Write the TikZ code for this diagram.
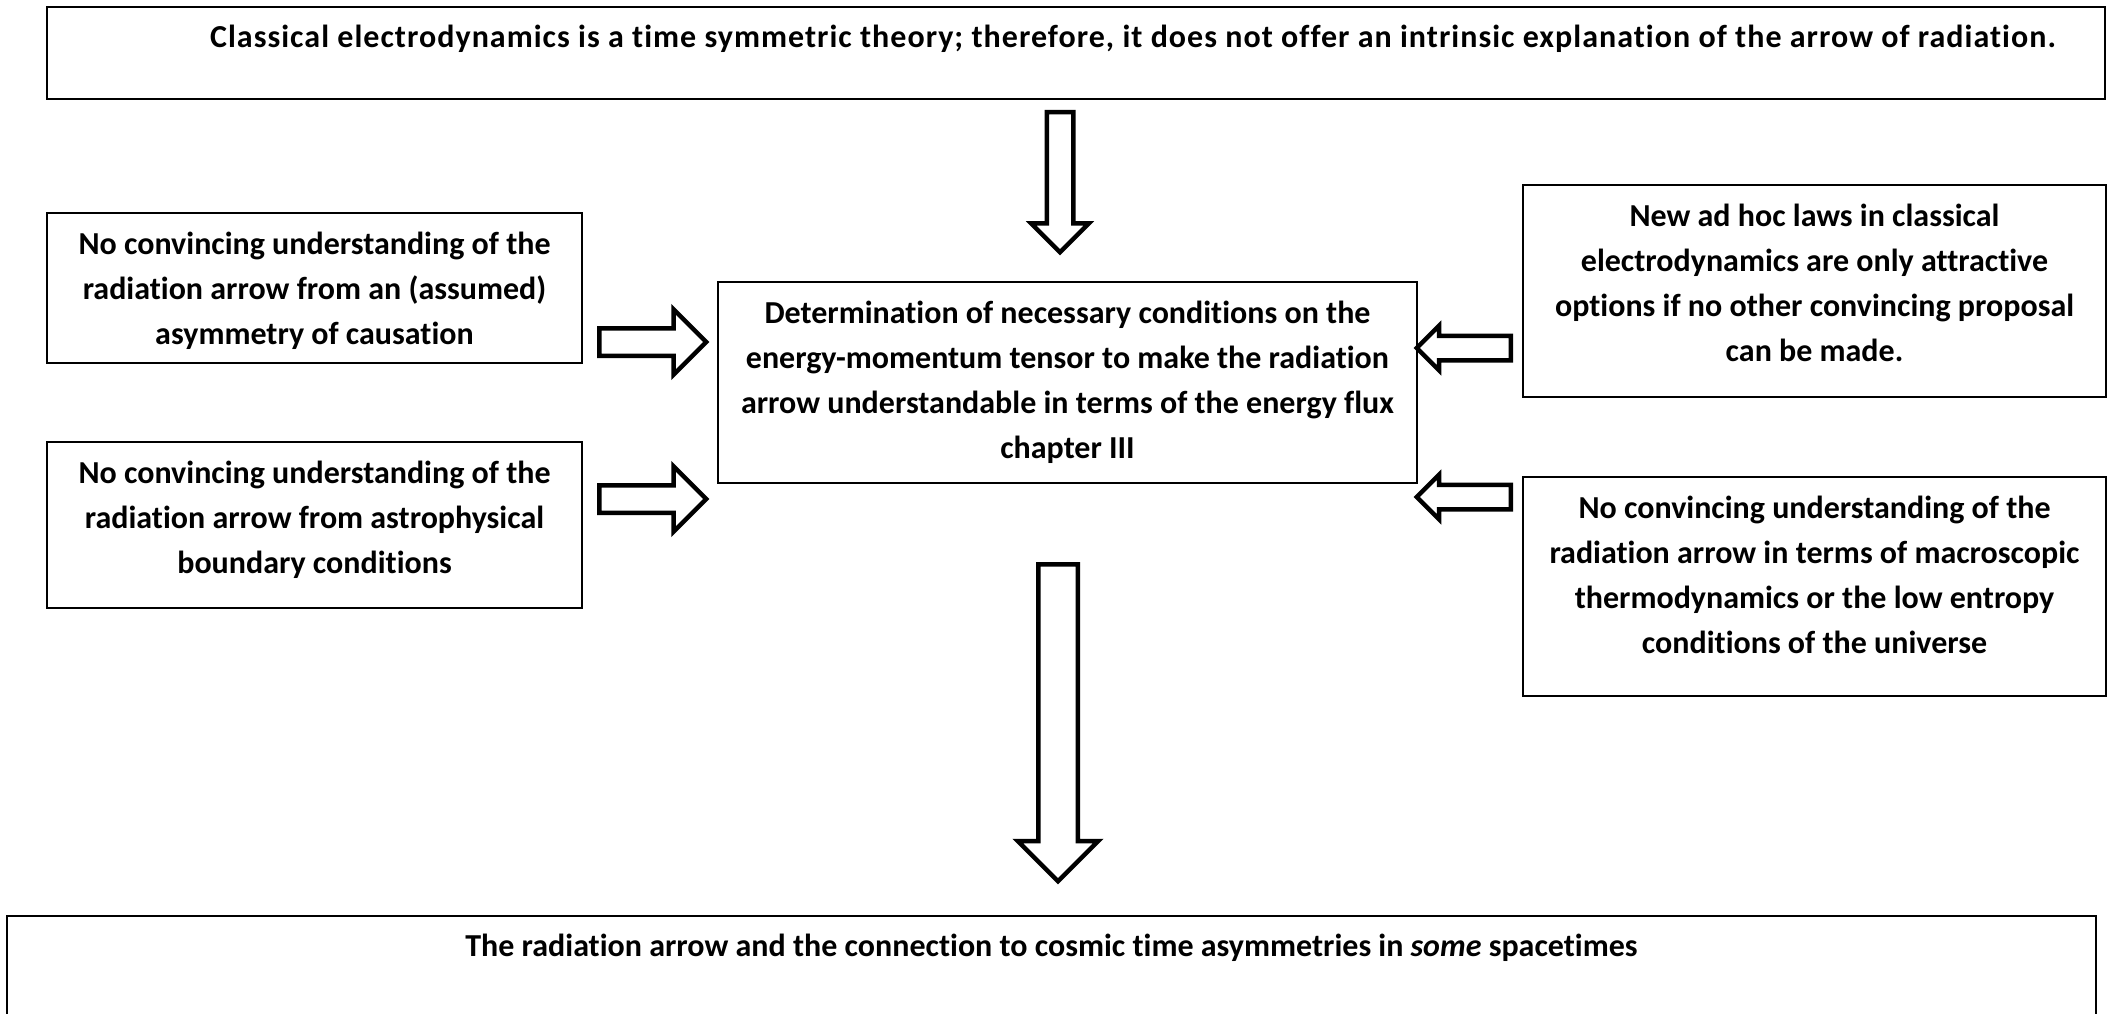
\documentclass[tikz,border=0pt]{standalone}
\usepackage{fontspec}
\setmainfont{Carlito}[Ligatures=NoCommon]
\usetikzlibrary{shapes.arrows}

\begin{document}
\begin{tikzpicture}[x=1pt, y=-1pt,
    frame/.style={draw, line width=1.2pt, inner sep=0, outer sep=0, anchor=north west},
    txt/.style={align=center, anchor=north, inner sep=0, font=\fontsize{32}{45}\selectfont\bfseries, execute at begin node=\strut},
    blockarrow/.style={single arrow, draw, line width=4.5pt, inner xsep=0, single arrow head indent=0pt, anchor=tail}]
  \useasboundingbox (0,0) rectangle (2114,1014);

  \node[frame, line width=2pt, minimum width=2058pt, minimum height=92pt] (cls) at (47,7) {};
  \node[frame, minimum width=535pt, minimum height=150pt] (asym) at (47,213) {};
  \node[frame, minimum width=535pt, minimum height=166pt] (astro) at (47,442) {};
  \node[frame, minimum width=699pt, minimum height=201pt] (det) at (718,282) {};
  \node[frame, minimum width=583pt, minimum height=212pt] (adhoc) at (1523,185) {};
  \node[frame, minimum width=583pt, minimum height=219pt] (thermo) at (1523,477) {};
  \node[frame, line width=2pt, minimum width=2089pt, minimum height=130pt] (cosmic) at (7,916) {};

  \node[txt] (clst) at ([xshift=57pt, yshift=-9pt]cls.north) {\addfontfeature{LetterSpace=3.2}Classical electrodynamics is a time symmetric theory; therefore, it does not offer an intrinsic explanation of the arrow of radiation.};
  \node[txt] (asymt) at ([yshift=-19pt]asym.north) {No convincing understanding of the\\radiation arrow from an (assumed)\\asymmetry of causation};
  \node[txt] (astrot) at ([yshift=-19pt]astro.north) {No convincing understanding of the\\radiation arrow from astrophysical\\boundary conditions};
  \node[txt] (dett) at ([yshift=-19pt]det.north) {Determination of necessary conditions on the\\energy-momentum tensor to make the radiation\\arrow understandable in terms of the energy flux\\chapter III};
  \node[txt] (adhoct) at ([yshift=-19pt]adhoc.north) {New ad hoc laws in classical\\electrodynamics are only attractive\\options if no other convincing proposal\\can be made.};
  \node[txt] (thermot) at ([yshift=-19pt]thermo.north) {No convincing understanding of the\\radiation arrow in terms of macroscopic\\thermodynamics or the low entropy\\conditions of the universe};
  \node[txt] (cosmict) at ([yshift=-9pt]cosmic.north) {The radiation arrow and the connection to cosmic time asymmetries in \textit{some} spacetimes};

  \foreach \x/\y/\r/\len/\s/\e [count=\i] in {1060/110/-90/140/22/15.5, 597/342/0/107/23/19, 597/499/0/107/23/19,
      1513/348/180/94/20/10, 1513/497/180/94/20/10, 1058/562/-90/317/35/20.5}
    \node[blockarrow, rotate=\r, minimum height=\len pt, inner ysep=\s pt/2, single arrow head extend=\e pt] (arr\i) at (\x,\y) {};
\end{tikzpicture}
\end{document}
